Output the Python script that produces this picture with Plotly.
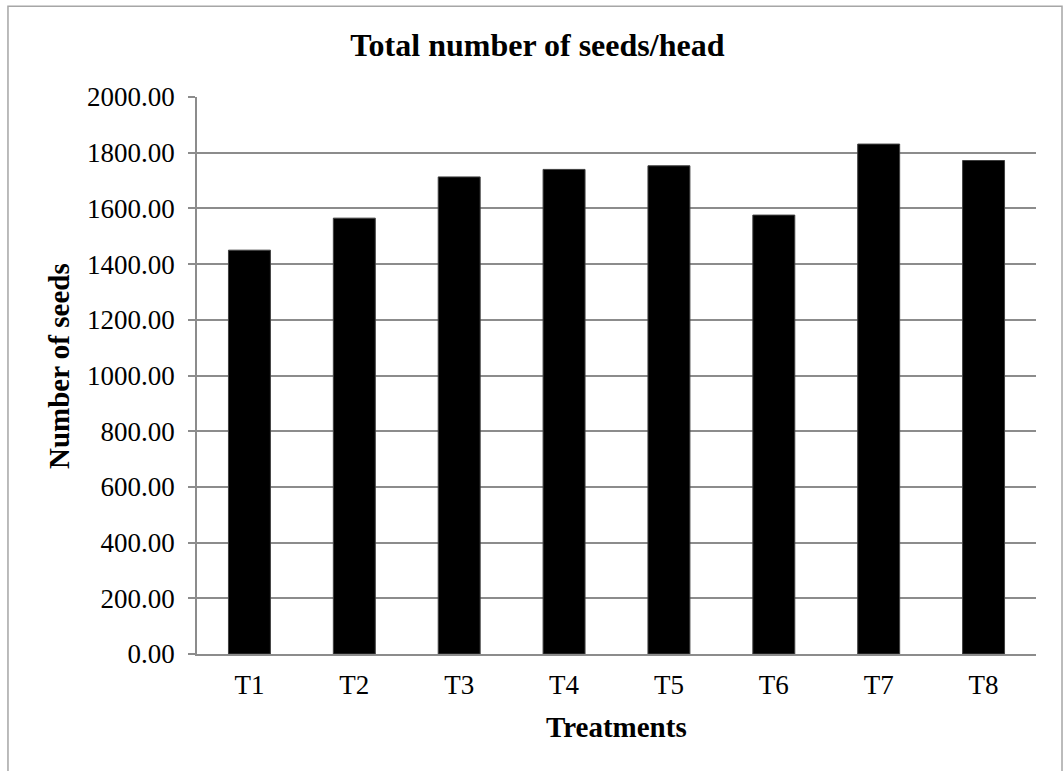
import plotly.graph_objects as go

# Mean total seeds per head for each treatment
treatments = ["T1", "T2", "T3", "T4", "T5", "T6", "T7", "T8"]
seeds_per_head = [1450, 1565, 1713, 1740, 1753, 1576, 1831, 1772]

y_ticks = [0, 200, 400, 600, 800, 1000, 1200, 1400, 1600, 1800, 2000]

SERIF = "Liberation Serif, Times New Roman, serif"
GRID = "#8c8c8c"

fig = go.Figure(
    go.Bar(
        x=treatments,
        y=seeds_per_head,
        marker=dict(color="black", line=dict(color="#404040", width=1)),
        hoverinfo="x+y",
    )
)

fig.update_layout(
    width=1064,
    height=771,
    margin=dict(l=197, r=28, t=97, b=117),
    paper_bgcolor="white",
    plot_bgcolor="white",
    bargap=0.6,
    showlegend=False,
    font=dict(family=SERIF, color="black", size=27),
    title=dict(
        text="<b>Total number of seeds/head</b>",
        xref="container",
        yref="container",
        x=0.505,
        y=0.942,
        xanchor="center",
        yanchor="middle",
        font=dict(family=SERIF, size=32, color="black"),
    ),
    xaxis=dict(
        showgrid=False,
        showline=True,
        linecolor=GRID,
        linewidth=1.5,
        ticks="",
        tickfont=dict(size=27),
        ticklabelstandoff=6,
    ),
    yaxis=dict(
        range=[0, 2000],
        tickvals=y_ticks,
        tickformat=".2f",
        showgrid=True,
        gridcolor=GRID,
        gridwidth=1.5,
        showline=True,
        linecolor=GRID,
        linewidth=1.5,
        ticks="outside",
        ticklen=7,
        tickcolor=GRID,
        tickwidth=1.5,
        tickfont=dict(size=27),
        ticklabelstandoff=8,
        zeroline=False,
    ),
    annotations=[
        dict(
            text="<b>Number of seeds</b>",
            xref="paper",
            yref="paper",
            x=-0.1645,
            y=0.517,
            textangle=-90,
            showarrow=False,
            xanchor="center",
            yanchor="middle",
            font=dict(family=SERIF, size=29, color="black"),
        ),
        dict(
            text="<b>Treatments</b>",
            xref="paper",
            yref="paper",
            x=0.5,
            y=-0.131,
            showarrow=False,
            xanchor="center",
            yanchor="middle",
            font=dict(family=SERIF, size=29, color="black"),
        ),
    ],
    shapes=[
        # outer chart frame
        dict(
            type="rect",
            xref="paper",
            yref="paper",
            x0=-0.2253,
            x1=1.031,
            y0=-0.25,
            y1=1.1628,
            line=dict(color="#a6a6a6", width=1.5),
            fillcolor="rgba(0,0,0,0)",
            layer="below",
        )
    ],
)

fig.write_html("out.html")
